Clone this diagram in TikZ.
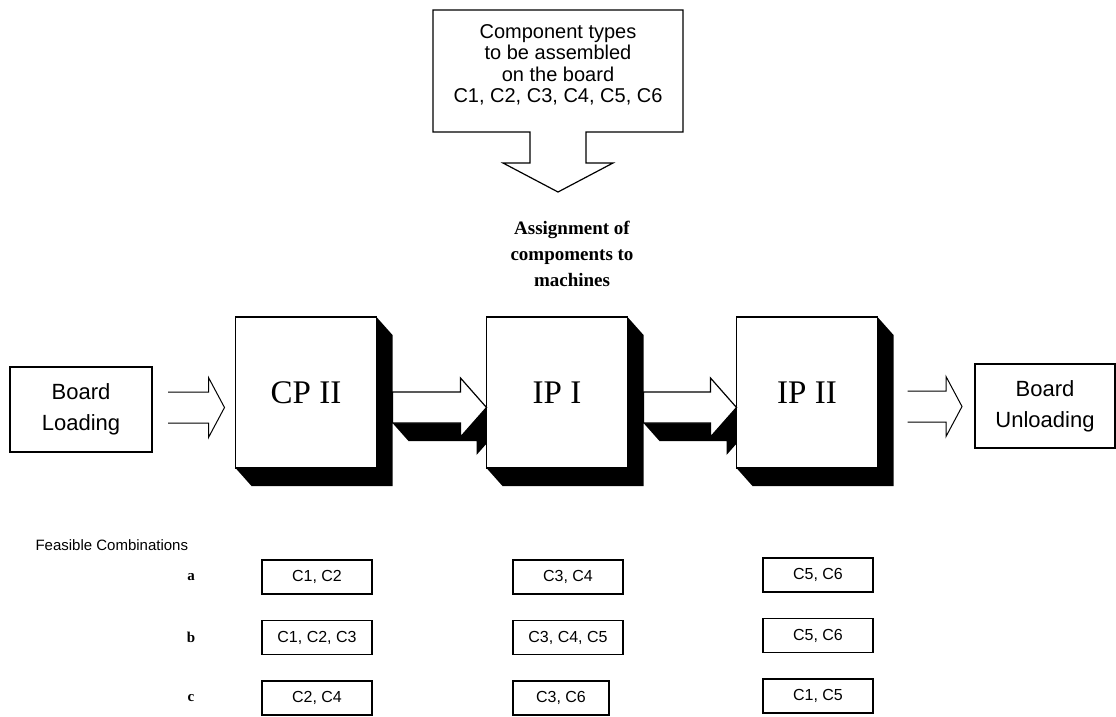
\documentclass[tikz,border=0pt]{standalone}
\usepackage{fontspec}
\setmainfont{Liberation Serif}
\setsansfont{Liberation Sans}
\usetikzlibrary{calc,backgrounds}

\tikzset{
  box/.style={draw,line width=1.2pt,fill=white,inner sep=0pt,outer sep=0pt,align=center},
  machine/.style={box,minimum width=141,minimum height=151,font=\fontsize{33}{36}\selectfont},
  board/.style={box,font=\sffamily\fontsize{22}{31}\selectfont},
  combo/.style={box,anchor=west,minimum width=110,minimum height=34,font=\sffamily\fontsize{16}{18}\selectfont},
  rowlabel/.style={font=\bfseries\fontsize{15}{17}\selectfont}
}

% shaded block arrow from #1 to tip #2
\newcommand{\fatarrow}[2]{%
  \begin{scope}[on background layer]
    \fill ($(#1)+(0,-15.5)$) -- ($(#2)+(-26,-15.5)$) -- ($(#2)+(-26,-29.5)$) -- ($(#2)+(16,18)$)
      -- ($(#2)+(-10,47.5)$) -- ($(#2)+(-10,33.5)$) -- ($(#1)+(16,33.5)$) -- ($(#1)+(0,15.5)$) -- cycle;
  \end{scope}
  \draw[line width=1.2pt,fill=white] ($(#1)+(0,-15.5)$) -- ($(#2)+(-26,-15.5)$) -- ($(#2)+(-26,-29.5)$) -- (#2)
    -- ($(#2)+(-26,29.5)$) -- ($(#2)+(-26,15.5)$) -- ($(#1)+(0,15.5)$) -- cycle;}

% open outline arrow from #1 to tip #2
\newcommand{\thinarrow}[2]{%
  \draw[line width=1pt] ($(#1)+(0,-15.5)$) -- ($(#2)+(-16,-15.5)$) -- ($(#2)+(-16,-30)$) -- (#2)
    -- ($(#2)+(-16,30)$) -- ($(#2)+(-16,15.5)$) -- ($(#1)+(0,15.5)$);}

\begin{document}
\begin{tikzpicture}[x=1pt,y=-1pt]
  \useasboundingbox (0,0) rectangle (1116,716);

  % component types callout
  \node[font=\sffamily\fontsize{20}{21.5}\selectfont,align=center] (comp) at (558,65)
    {Component types\\to be assembled\\on the board\\C1, C2, C3, C4, C5, C6};
  \draw[line width=1.2pt] ($(comp)+(-125,-55)$) -- ($(comp)+(125,-55)$) -- ($(comp)+(125,67)$)
    -- ($(comp)+(28,67)$) -- ++(0,31) -- ++(27,0) -- ($(comp)+(0,127)$) coordinate (drop)
    -- ++(-55,-29) -- ++(27,0) -- ($(comp)+(-28,67)$) -- ($(comp)+(-125,67)$) -- cycle;
  \node[font=\bfseries\fontsize{19}{26}\selectfont,align=center] (assign) at (572,254)
    {Assignment of\\compoments to\\machines};

  % machines
  \node[machine] (cp) at (306,392.5) {CP II};
  \node[machine] (ipone) at (557,392.5) {IP I};
  \node[machine] (iptwo) at (807,392.5) {IP II};
  \begin{scope}[on background layer]
    \foreach \m in {cp,ipone,iptwo}
      \fill (\m.north east) -- ++(16,18) -- ($(\m.south east)+(16,18)$) -- ($(\m.south west)+(16,18)$)
        -- (\m.south west) -- cycle;
  \end{scope}

  \node[board,minimum width=142,minimum height=85] (load) at (81,409.5) {Board\\Loading};
  \node[board,minimum width=140,minimum height=84] (unload) at (1045,406) {Board\\Unloading};

  \coordinate (loadout) at ($(load.east)+(16,-2)$);
  \coordinate (cpin) at ($(cp.west)+(-11,15)$);
  \coordinate (cpout) at ($(cp.east)+(16,15)$);
  \coordinate (iponein) at ($(ipone.west)+(0,15)$);
  \coordinate (ipOneout) at ($(ipone.east)+(16,15)$);
  \coordinate (iptwoin) at ($(iptwo.west)+(0,15)$);
  \coordinate (iptwoout) at ($(iptwo.east)+(30,14)$);
  \coordinate (unloadin) at ($(unload.west)+(-13,0.5)$);

  \thinarrow{loadout}{cpin}
  \fatarrow{cpout}{iponein}
  \fatarrow{ipOneout}{iptwoin}
  \thinarrow{iptwoout}{unloadin}

  % feasible combinations
  \node[anchor=west,font=\sffamily\fontsize{15}{17}\selectfont] (feas) at (32,545) {Feasible Combinations};
  \foreach \r/\y/\p/\q/\w/\s in {a/577/{C1, C2}/{C3, C4}/110/{C5, C6},
                                b/637.5/{C1, C2, C3}/{C3, C4, C5}/110/{C5, C6},
                                c/698/{C2, C4}/{C3, C6}/96/{C1, C5}}{
    \node[rowlabel] (lab\r) at (191,\y) {\r};
    \node[combo] (cp\r) at (262,\y) {\p};
    \node[combo,minimum width=\w] (ipone\r) at (513,\y) {\q};
    \node[combo] (iptwo\r) at (763,\y-2) {\s};
  }
\end{tikzpicture}
\end{document}
